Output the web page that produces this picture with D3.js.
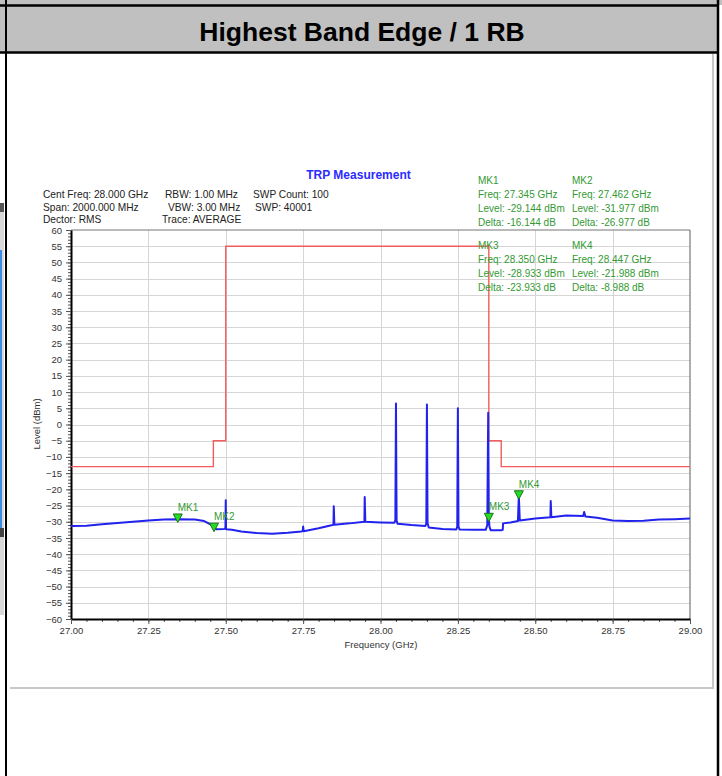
<!DOCTYPE html>
<html>
<head>
<meta charset="utf-8">
<script src="https://cdn.jsdelivr.net/npm/d3@7/dist/d3.min.js"></script>
<style>
  html, body { margin: 0; padding: 0; background: #ffffff; }
  svg { display: block; font-family: "Liberation Sans", Arial, sans-serif; }
</style>
</head>
<body>
<svg id="chart" width="722" height="776"></svg>
<script>
// ---------- data ----------
const pageTitle = "Highest Band Edge / 1 RB";
const chartTitle = "TRP Measurement";
const infoLines = [
  ["Cent Freq: 28.000 GHz", "RBW: 1.00 MHz", "SWP Count: 100"],
  ["Span: 2000.000 MHz", "VBW: 3.00 MHz", "SWP: 40001"],
  ["Dector: RMS", "Trace: AVERAGE", ""]
];
const xTickValues = [27.00, 27.25, 27.50, 27.75, 28.00, 28.25, 28.50, 28.75, 29.00];
const xTickLabels = ["27.00", "27.25", "27.50", "27.75", "28.00", "28.25", "28.50", "28.75", "29.00"];
const yTickValues = [-60, -55, -50, -45, -40, -35, -30, -25, -20, -15, -10, -5, 0, 5, 10, 15, 20, 25, 30, 35, 40, 45, 50, 55, 60];
const xLabel = "Frequency (GHz)";
const yLabel = "Level (dBm)";

// measured trace (GHz, dBm)
const traceFreq = [
  27.000, 27.050, 27.100, 27.150, 27.200, 27.250, 27.300, 27.345, 27.400, 27.430,
  27.455, 27.462, 27.470, 27.495, 27.499, 27.500, 27.501, 27.520, 27.550, 27.600,
  27.650, 27.700, 27.745, 27.749, 27.750, 27.752, 27.800, 27.845, 27.848, 27.849,
  27.851, 27.900, 27.948, 27.949, 27.951, 28.000, 28.045, 28.048, 28.050, 28.052,
  28.055, 28.100, 28.145, 28.148, 28.150, 28.152, 28.156, 28.200, 28.245, 28.248,
  28.250, 28.252, 28.256, 28.300, 28.340, 28.345, 28.348, 28.350, 28.352, 28.356,
  28.390, 28.395, 28.396, 28.420, 28.444, 28.447, 28.450, 28.500, 28.549, 28.550,
  28.552, 28.600, 28.655, 28.658, 28.662, 28.700, 28.750, 28.800, 28.850, 28.900,
  28.950, 29.000
];
const traceLevel = [
  -31.3, -31.2, -30.8, -30.4, -30.0, -29.6, -29.3, -29.2, -29.3, -29.8,
  -31.0, -32.0, -32.3, -32.2, -32.0, -23.4, -32.3, -32.5, -33.0, -33.5,
  -33.7, -33.4, -33.0, -32.8, -31.5, -32.9, -32.0, -31.0, -30.9, -25.2,
  -30.9, -30.5, -30.0, -22.4, -30.0, -30.2, -30.3, -29.5, 6.5, -29.5,
  -30.6, -31.0, -31.3, -30.5, 6.2, -30.5, -31.8, -32.2, -32.4, -31.5,
  5.0, -31.5, -32.4, -32.5, -32.5, -31.0, 3.6, -28.9, -31.5, -32.6,
  -32.6, -32.5, -30.5, -30.2, -29.8, -22.0, -29.6, -29.0, -28.6, -23.6,
  -28.6, -28.1, -28.2, -27.0, -28.4, -28.8, -29.6, -29.8, -29.7, -29.3,
  -29.2, -29.0
];

// limit mask (GHz, dBm)
const limitFreq = [27.00, 27.46, 27.46, 27.50, 27.50, 28.35, 28.35, 28.39, 28.39, 29.00];
const limitLevel = [-13, -13, -5, -5, 55, 55, -5, -5, -13, -13];

// markers
const markerNames = ["MK1", "MK2", "MK3", "MK4"];
const markerFreq = [27.345, 27.462, 28.350, 28.447];
const markerLevel = [-29.144, -31.977, -28.933, -21.988];
const markerDelta = [-16.144, -26.977, -23.933, -8.988];

// ---------- drawing ----------
const svg = d3.select("#chart");

// page frame / table look
svg.append("rect").attr("x", 0).attr("y", 0).attr("width", 722).attr("height", 5).attr("fill", "#c0c0c0");
svg.append("rect").attr("x", 0).attr("y", 6).attr("width", 718).attr("height", 46).attr("fill", "#c0c0c0");
svg.append("line").attr("x1", 0).attr("x2", 719).attr("y1", 5.5).attr("y2", 5.5).attr("stroke", "#000").attr("stroke-width", 2.5);
svg.append("line").attr("x1", 0).attr("x2", 719).attr("y1", 52.5).attr("y2", 52.5).attr("stroke", "#000").attr("stroke-width", 2.5);
svg.append("line").attr("x1", 6).attr("x2", 6).attr("y1", 0).attr("y2", 776).attr("stroke", "#000").attr("stroke-width", 2);
svg.append("line").attr("x1", 718).attr("x2", 718).attr("y1", 0).attr("y2", 776).attr("stroke", "#000").attr("stroke-width", 2.5);
// neighbour cell hints at the far left
svg.append("rect").attr("x", 0).attr("y", 203).attr("width", 4).attr("height", 412).attr("fill", "#d8d8d8");
svg.append("rect").attr("x", 0).attr("y", 203).attr("width", 4).attr("height", 9).attr("fill", "#555");
svg.append("rect").attr("x", 0).attr("y", 250).attr("width", 2).attr("height", 278).attr("fill", "#3a8ee6");
svg.append("rect").attr("x", 0).attr("y", 528).attr("width", 4).attr("height", 9).attr("fill", "#444");

svg.append("text")
  .attr("x", 362).attr("y", 41)
  .attr("text-anchor", "middle")
  .attr("font-size", "26.5px").attr("font-weight", "bold").attr("fill", "#000")
  .text(pageTitle);

// chart picture border
svg.append("line").attr("x1", 10).attr("x2", 714).attr("y1", 688).attr("y2", 688).attr("stroke", "#c8c8c8").attr("stroke-width", 2);
svg.append("line").attr("x1", 713).attr("x2", 713).attr("y1", 54).attr("y2", 689).attr("stroke", "#c8c8c8").attr("stroke-width", 2);

const x = d3.scaleLinear().domain([27, 29]).range([71, 690]);
const y = d3.scaleLinear().domain([-60, 60]).range([619, 230]);

// grid
const grid = svg.append("g");
grid.selectAll(".hg").data(yTickValues.filter(v => v > -60 && v < 60)).enter().append("line")
  .attr("x1", x(27)).attr("x2", x(29))
  .attr("y1", d => Math.round(y(d)) + 0.5).attr("y2", d => Math.round(y(d)) + 0.5)
  .attr("stroke", "#d6d6d6").attr("stroke-width", 1);
grid.selectAll(".vg").data(xTickValues.filter(v => v > 27 && v < 29)).enter().append("line")
  .attr("x1", d => Math.round(x(d)) + 0.5).attr("x2", d => Math.round(x(d)) + 0.5)
  .attr("y1", y(60)).attr("y2", y(-60))
  .attr("stroke", "#d6d6d6").attr("stroke-width", 1);

// frame top/right
svg.append("line").attr("x1", x(27)).attr("x2", x(29)).attr("y1", y(60)).attr("y2", y(60)).attr("stroke", "#777").attr("stroke-width", 1.2);
svg.append("line").attr("x1", x(29)).attr("x2", x(29)).attr("y1", y(60)).attr("y2", y(-60)).attr("stroke", "#777").attr("stroke-width", 1.2);

// axes
const minorY = d3.range(-60, 61, 1);
const minorX = d3.range(0, 41).map(i => 27 + i * 0.05);

const yMinor = svg.append("g").attr("transform", `translate(${x(27)},0)`)
  .call(d3.axisLeft(y).tickValues(minorY).tickSize(3).tickFormat(""));
yMinor.select(".domain").remove();
yMinor.selectAll("line").attr("stroke", "#555");

const yAxis = svg.append("g").attr("transform", `translate(${x(27)},0)`)
  .call(d3.axisLeft(y).tickValues(yTickValues).tickSize(5).tickSizeOuter(0).tickPadding(4));
yAxis.select(".domain").attr("stroke", "#000").attr("stroke-width", 2);
yAxis.selectAll("line").attr("stroke", "#555");
yAxis.selectAll("text").attr("font-size", "9.5px").attr("fill", "#333").attr("font-family", "'Liberation Sans', Arial, sans-serif");

const xMinor = svg.append("g").attr("transform", `translate(0,${y(-60)})`)
  .call(d3.axisBottom(x).tickValues(minorX).tickSize(3).tickFormat(""));
xMinor.select(".domain").remove();
xMinor.selectAll("line").attr("stroke", "#555");

const xAxis = svg.append("g").attr("transform", `translate(0,${y(-60)})`)
  .call(d3.axisBottom(x).tickValues(xTickValues).tickSize(5).tickSizeOuter(0).tickPadding(3)
    .tickFormat((d, i) => xTickLabels[i]));
xAxis.select(".domain").attr("stroke", "#000").attr("stroke-width", 2);
xAxis.selectAll("line").attr("stroke", "#555");
xAxis.selectAll("text").attr("font-size", "9.5px").attr("fill", "#333").attr("font-family", "'Liberation Sans', Arial, sans-serif");

svg.append("text").attr("x", 381).attr("y", 648).attr("text-anchor", "middle")
  .attr("font-size", "9.5px").attr("fill", "#333").text(xLabel);
svg.append("text").attr("transform", "translate(40,424) rotate(-90)").attr("text-anchor", "middle")
  .attr("font-size", "9.5px").attr("fill", "#333").text(yLabel);

// limit line
const limitData = limitFreq.map((f, i) => ({ f, l: limitLevel[i] }));
svg.append("path").datum(limitData)
  .attr("d", d3.line().x(d => x(d.f)).y(d => y(d.l)))
  .attr("fill", "none").attr("stroke", "#f25c5c").attr("stroke-width", 1.4);

// trace
const traceData = traceFreq.map((f, i) => ({ f, l: traceLevel[i] }));
svg.append("path").datum(traceData)
  .attr("d", d3.line().x(d => x(d.f)).y(d => y(d.l)))
  .attr("fill", "none").attr("stroke", "#2222ee").attr("stroke-width", 2)
  .attr("stroke-linejoin", "round");

// markers
const mk = svg.append("g");
markerNames.forEach((name, i) => {
  const px = x(markerFreq[i]), py = y(markerLevel[i]);
  mk.append("path")
    .attr("d", `M${px - 4.5},${py - 5} L${px + 4.5},${py - 5} L${px},${py + 3.5} Z`)
    .attr("fill", "#22dd22").attr("stroke", "#1f6f1f").attr("stroke-width", 1);
  mk.append("text").attr("x", px).attr("y", py - 8)
    .attr("font-size", "10px").attr("fill", "#339933").text(name);
});

// chart title + info
svg.append("text").attr("x", 358.5).attr("y", 179).attr("text-anchor", "middle")
  .attr("font-size", "12px").attr("font-weight", "bold").attr("fill", "#2b2bff").text(chartTitle);

const infoX = [43, 165, 253];
const infoXAlt = [[43, 165, 253], [43, 168, 255], [43, 162, 0]];
const infoY = [198, 210.5, 223];
infoLines.forEach((row, r) => {
  row.forEach((t, c) => {
    if (!t) return;
    svg.append("text").attr("x", infoXAlt[r][c]).attr("y", infoY[r])
      .attr("font-size", "10.2px").attr("fill", "#222").text(t);
  });
});

// marker readouts
const readX = [478, 572, 478, 572];
const readY = [183.5, 248.5, 248.5, 248.5];
markerNames.forEach((name, i) => {
  const bx = readX[i];
  const by = i < 2 ? 183.5 : 248.5;
  const lines = [
    name,
    "Freq: " + markerFreq[i].toFixed(3) + " GHz",
    "Level: " + markerLevel[i].toFixed(3) + " dBm",
    "Delta: " + markerDelta[i].toFixed(3) + " dB"
  ];
  lines.forEach((t, k) => {
    svg.append("text").attr("x", bx).attr("y", by + k * 14)
      .attr("font-size", "10px").attr("fill", "#339933").text(t);
  });
});
</script>
</body>
</html>
